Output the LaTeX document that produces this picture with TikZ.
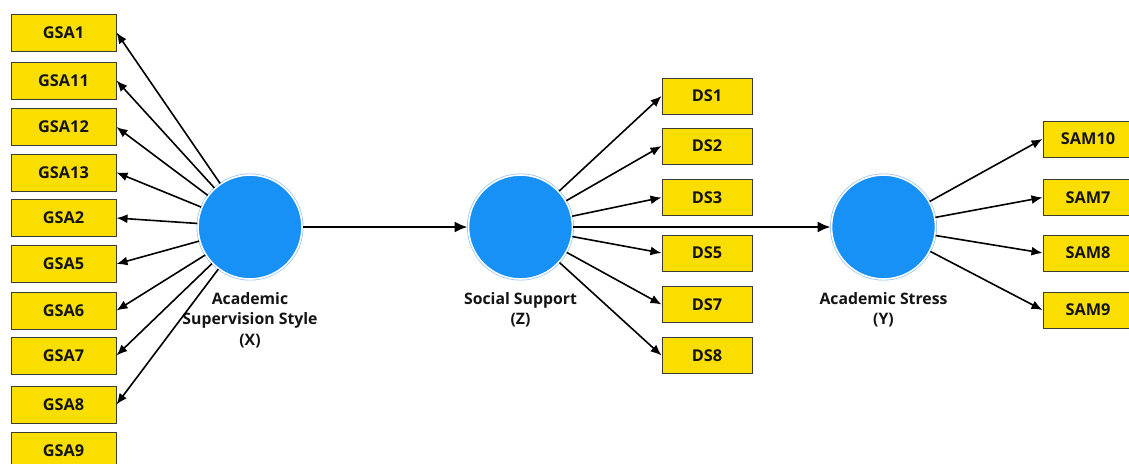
\documentclass[tikz,border=0pt]{standalone}
\usepackage{fontspec}
\setmainfont{Open Sans}
\usetikzlibrary{arrows.meta}
\definecolor{boxyellow}{RGB}{250,222,0}
\definecolor{boxedge}{RGB}{60,60,50}
\definecolor{nodeblue}{RGB}{24,145,246}
\definecolor{ringblue}{RGB}{150,192,238}
\definecolor{txt}{RGB}{20,20,20}
\tikzset{
  ind/.style={draw=boxedge, line width=1pt, fill=boxyellow, inner sep=0pt,
    minimum height=37pt, text=txt, font=\fontsize{16.3}{18}\selectfont\bfseries},
  gsabox/.style={ind, minimum width=105pt},
  dsbox/.style={ind, minimum width=90pt, minimum height=36pt},
  lat/.style={circle, fill=nodeblue, draw=white, line width=1.6pt,
    preaction={draw=ringblue, line width=3pt}, minimum size=104pt, inner sep=0pt},
  lab/.style={align=center, anchor=north, text=txt,
    font=\fontsize{15.8}{20.5}\selectfont\bfseries},
  arr/.style={draw=black, line width=1.6pt, -{Latex[length=11pt,width=9pt]}},
  mainarr/.style={draw=black, line width=2.8pt, -{Latex[length=13pt,width=11pt]}}
}
\begin{document}
\begin{tikzpicture}[x=1pt,y=-1pt]
\useasboundingbox (0,0) rectangle (1129,463);
\clip (0,0) rectangle (1129,463);
\fill[white] (0,0) rectangle (1129,463);
% latent variables
\node[lat] (X) at (250,227) {};
\node[lat] (Z) at (520.5,227) {};
\node[lat] (Y) at (883.5,227) {};
\node[lab] (lx) at (250,288.5) {Academic\\Supervision Style\\(X)};
\node[lab] (lz) at (520.5,288.5) {Social Support\\(Z)};
\node[lab] (ly) at (883.5,288.5) {Academic Stress\\(Y)};
% GSA indicators
\node[gsabox] (g1) at (63.5,32.5) {GSA1};
\node[gsabox] (g11) at (63.5,80.5) {GSA11};
\node[gsabox] (g12) at (63.5,127) {GSA12};
\node[gsabox] (g13) at (63.5,172.5) {GSA13};
\node[gsabox] (g2) at (63.5,218) {GSA2};
\node[gsabox] (g5) at (63.5,264) {GSA5};
\node[gsabox] (g6) at (63.5,310.5) {GSA6};
\node[gsabox] (g7) at (63.5,355.5) {GSA7};
\node[gsabox] (g8) at (63.5,404.5) {GSA8};
\node[gsabox] (g9) at (63.5,450.5) {GSA9};
% DS indicators
\node[dsbox] (d1) at (707,96) {DS1};
\node[dsbox] (d2) at (707,146) {DS2};
\node[dsbox] (d3) at (707,197.5) {DS3};
\node[dsbox] (d5) at (707,253) {DS5};
\node[dsbox] (d7) at (707,304.5) {DS7};
\node[dsbox] (d8) at (707,355.5) {DS8};
% SAM indicators
\node[dsbox] (s10) at (1088,139) {SAM10};
\node[dsbox] (s7) at (1088,197.5) {SAM7};
\node[dsbox] (s8) at (1088,253) {SAM8};
\node[dsbox] (s9) at (1088,310) {SAM9};
% loadings
\foreach \g in {g1,g11,g12,g13,g2,g5,g6,g7,g8} \draw[arr] (X) -- (\g.east);
\foreach \d in {d1,d2,d3,d5,d7,d8} \draw[arr] (Z) -- (\d.west);
\foreach \s in {s10,s7,s8,s9} \draw[arr] (Y) -- (\s.west);
% structural paths
\draw[mainarr] (X) -- (Z);
\draw[mainarr] (Z) -- (Y);
\end{tikzpicture}
\end{document}
